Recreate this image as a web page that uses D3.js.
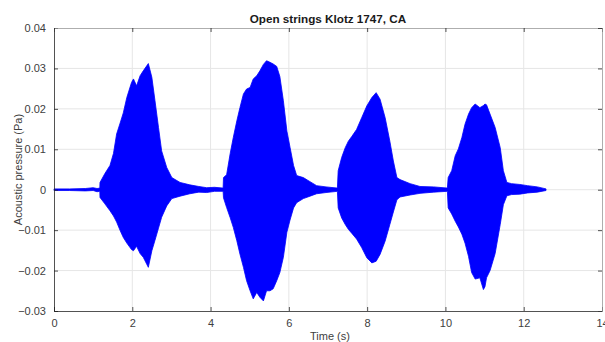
<!DOCTYPE html>
<html>
<head>
<meta charset="utf-8">
<script src="https://cdn.jsdelivr.net/npm/d3@7"></script>
<style>
  body { margin: 0; background: #fff; }
  svg { font-family: "Liberation Sans", Arial, sans-serif; }
</style>
</head>
<body>
<div id="chart"></div>
<script>
const time = [0, 0.4, 0.8, 1.0, 1.1, 1.17,
  1.175, 1.30, 1.43, 1.52, 1.60, 1.69, 1.77, 1.86, 1.98, 2.03, 2.11, 2.20, 2.28, 2.41, 2.50, 2.58, 2.67, 2.75, 2.88, 3.01, 3.22, 3.47, 3.7, 3.9, 4.1, 4.32,
  4.33, 4.41, 4.50, 4.58, 4.67, 4.75, 4.84, 4.92, 5.01, 5.09, 5.18, 5.26, 5.35, 5.43, 5.52, 5.60, 5.69, 5.77, 5.86, 5.95, 6.03, 6.12, 6.20, 6.37, 6.54, 6.71, 6.95, 7.24,
  7.26, 7.35, 7.44, 7.52, 7.61, 7.73, 7.86, 7.99, 8.12, 8.23, 8.33, 8.46, 8.58, 8.67, 8.76, 8.84, 9.10, 9.35, 9.7, 10.05,
  10.07, 10.16, 10.25, 10.33, 10.42, 10.50, 10.59, 10.67, 10.76, 10.88, 10.97, 11.01, 11.05, 11.14, 11.27, 11.40, 11.48, 11.57, 11.69, 11.9, 12.1, 12.35, 12.57];
const upper = [0.0002, 0.0002, 0.0003, 0.0005, 0.0003, 0.0004,
  0.0018, 0.004, 0.006, 0.009, 0.0138, 0.0165, 0.019, 0.0228, 0.0265, 0.0274, 0.0257, 0.0282, 0.0294, 0.0312, 0.0278, 0.022, 0.0154, 0.0096, 0.0055, 0.003, 0.0018, 0.0012, 0.0008, 0.0005, 0.0006, 0.0004,
  0.003, 0.0037, 0.0089, 0.0129, 0.017, 0.0203, 0.0237, 0.0249, 0.0253, 0.0274, 0.0282, 0.0294, 0.031, 0.0319, 0.0315, 0.0311, 0.0305, 0.028, 0.022, 0.0145, 0.0105, 0.006, 0.0035, 0.003, 0.002, 0.001, 0.0007, 0.0004,
  0.0047, 0.008, 0.0104, 0.012, 0.0132, 0.0149, 0.0178, 0.0207, 0.0228, 0.024, 0.0224, 0.0178, 0.012, 0.0071, 0.003, 0.0025, 0.0015, 0.0008, 0.0007, 0.0004,
  0.003, 0.0047, 0.0084, 0.0101, 0.0129, 0.0162, 0.0187, 0.0203, 0.0212, 0.0203, 0.0208, 0.0212, 0.021, 0.0187, 0.0154, 0.0104, 0.0047, 0.0018, 0.0015, 0.0013, 0.0010, 0.0007, 0.0002];
const lower = [-0.0002, -0.0002, -0.0003, -0.0002, -0.0005, -0.0004,
  -0.0019, -0.0035, -0.0052, -0.0065, -0.0080, -0.0101, -0.0118, -0.0132, -0.0148, -0.0151, -0.0140, -0.0158, -0.0167, -0.0192, -0.0151, -0.0125, -0.0095, -0.0068, -0.0040, -0.0022, -0.0016, -0.0010, -0.0006, -0.0007, -0.0004, -0.0004,
  -0.002, -0.0044, -0.0069, -0.0093, -0.0126, -0.0159, -0.0192, -0.0225, -0.025, -0.027, -0.0254, -0.0266, -0.0275, -0.025, -0.025, -0.0245, -0.0225, -0.0205, -0.0167, -0.0105, -0.0075, -0.0045, -0.0032, -0.0022, -0.0016, -0.0010, -0.0007, -0.0004,
  -0.0045, -0.007, -0.0086, -0.0098, -0.0108, -0.0122, -0.0143, -0.0168, -0.0181, -0.0177, -0.016, -0.0127, -0.0086, -0.0055, -0.0025, -0.0018, -0.0013, -0.0009, -0.0006, -0.0004,
  -0.0045, -0.006, -0.0078, -0.0092, -0.011, -0.0132, -0.0165, -0.0205, -0.0221, -0.0218, -0.0247, -0.024, -0.0218, -0.020, -0.0158, -0.0086, -0.0037, -0.0015, -0.0012, -0.0011, -0.0008, -0.0006, -0.0002];

const xTicks = [0, 2, 4, 6, 8, 10, 12, 14];
const yTicks = [-0.03, -0.02, -0.01, 0, 0.01, 0.02, 0.03, 0.04];

const width = 605, height = 342;
const margin = {top: 28, right: 3, bottom: 31, left: 54};

const svg = d3.select("#chart").append("svg")
    .attr("width", width)
    .attr("height", height);

const x = d3.scaleLinear().domain([0, 14]).range([margin.left, width - margin.right]);
const y = d3.scaleLinear().domain([-0.03, 0.04]).range([height - margin.bottom, margin.top]);

// grid
svg.append("g").selectAll("line")
   .data(xTicks.slice(1, -1))
   .enter().append("line")
   .attr("x1", d => x(d)).attr("x2", d => x(d))
   .attr("y1", y(0.04)).attr("y2", y(-0.03))
   .attr("stroke", "#e6e6e6");
svg.append("g").selectAll("line")
   .data(yTicks.slice(1, -1))
   .enter().append("line")
   .attr("x1", x(0)).attr("x2", x(14))
   .attr("y1", d => y(d)).attr("y2", d => y(d))
   .attr("stroke", "#e6e6e6");

// waveform
const pts = time.map((t, i) => ({t: t, hi: upper[i], lo: lower[i]}));
const area = d3.area()
    .x(d => x(d.t))
    .y0(d => y(d.lo))
    .y1(d => y(d.hi));
svg.append("path")
   .datum(pts)
   .attr("d", area)
   .attr("fill", "#0000ff")
   .attr("stroke", "#0000ff")
   .attr("stroke-width", 0.8)
   .attr("stroke-linejoin", "round");

// axes, matlab style box with ticks inside
const axisColor = "#262626";
const axBottom = svg.append("g").attr("transform", `translate(0,${y(-0.03)})`)
   .call(d3.axisBottom(x).tickValues(xTicks).tickSize(-4).tickPadding(8));
const axLeft = svg.append("g").attr("transform", `translate(${x(0)},0)`)
   .call(d3.axisLeft(y).tickValues(yTicks).tickSize(-4).tickPadding(8).tickFormat(d => d === 0 ? "0" : d3.format(".2f")(d)));
const axTop = svg.append("g").attr("transform", `translate(0,${y(0.04)})`)
   .call(d3.axisTop(x).tickValues(xTicks).tickSize(-4).tickFormat(""));
const axRight = svg.append("g").attr("transform", `translate(${x(14)},0)`)
   .call(d3.axisRight(y).tickValues(yTicks).tickSize(-4).tickFormat(""));

[axBottom, axLeft, axTop, axRight].forEach(g => {
  g.select(".domain").attr("stroke", axisColor).attr("stroke-width", 0.8);
  g.selectAll(".tick line").attr("stroke", axisColor).attr("stroke-width", 0.8);
  g.selectAll(".tick text").attr("fill", "#404040").style("font-size", "11px");
});
axTop.select(".domain").attr("stroke", "#999");
axRight.select(".domain").attr("stroke", "#999");

svg.append("text")
   .attr("x", 328).attr("y", 23)
   .attr("text-anchor", "middle")
   .style("font-size", "11.7px").style("font-weight", "bold")
   .attr("fill", "#1a1a1a")
   .text("Open strings Klotz 1747, CA");

svg.append("text")
   .attr("x", 330).attr("y", 340)
   .attr("text-anchor", "middle")
   .style("font-size", "11px")
   .attr("fill", "#404040")
   .text("Time (s)");

svg.append("text")
   .attr("transform", `translate(22,${(y(0.04) + y(-0.03)) / 2}) rotate(-90)`)
   .attr("text-anchor", "middle")
   .style("font-size", "11px")
   .attr("fill", "#404040")
   .text("Acoustic pressure (Pa)");
</script>
</body>
</html>
